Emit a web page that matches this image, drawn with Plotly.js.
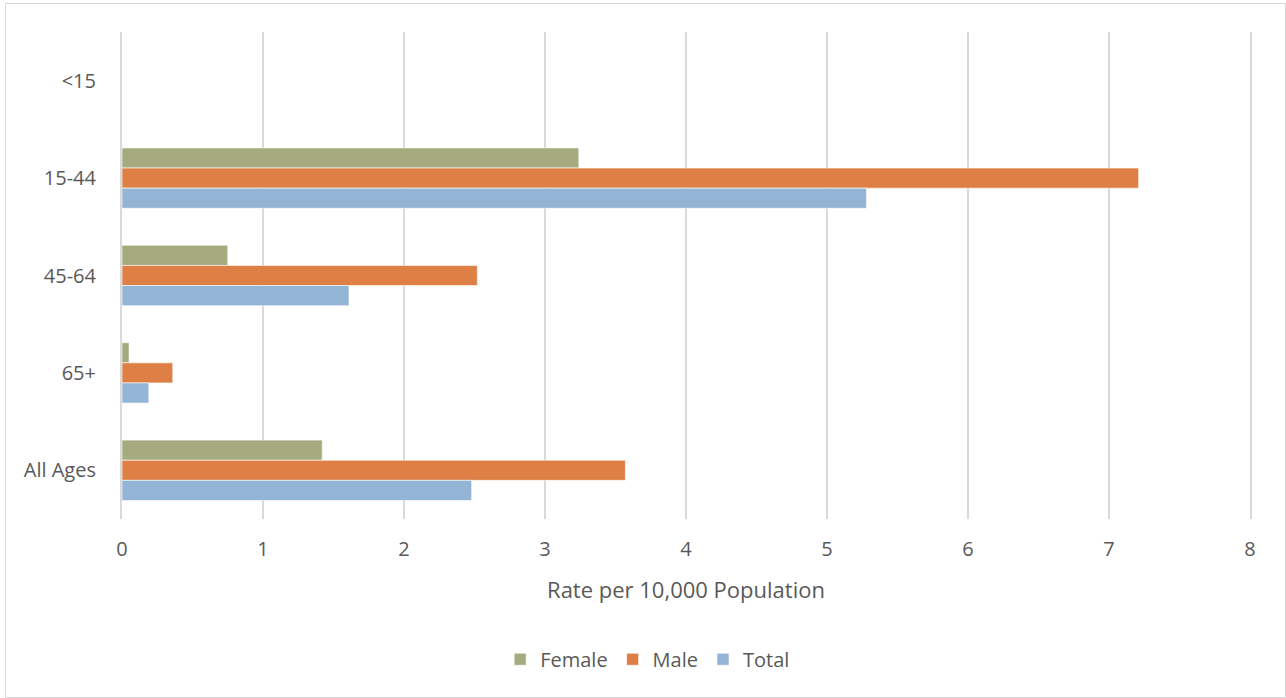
<!DOCTYPE html>
<html>
<head>
<meta charset="utf-8">
<script src="https://cdn.plot.ly/plotly-3.0.1.min.js"></script>
<style>
html,body{margin:0;padding:0;background:#fff;}
#wrap{position:relative;width:1286px;height:698px;}
#chart{position:absolute;left:0;top:0;width:1286px;height:698px;}
#frame{position:absolute;left:5px;top:3px;width:1279px;height:693px;border:1px solid #D9D9D9;pointer-events:none;}
</style>
</head>
<body>
<div id="wrap"><div id="chart"></div><div id="frame"></div></div>
<script>
const categories = ["<15", "15-44", "45-64", "65+", "All Ages"];
const female = [0, 3.24, 0.75, 0.05, 1.42];
const male = [0, 7.21, 2.52, 0.36, 3.57];
const total = [0, 5.28, 1.61, 0.19, 2.48];
const seriesNames = ["Female", "Male", "Total"];
const colors = ["#A5AB7F", "#DE8046", "#93B4D4"];
const xTicks = [0, 1, 2, 3, 4, 5, 6, 7, 8];

const values = [female, male, total];
const data = values.map((v, i) => ({
  type: 'bar',
  orientation: 'h',
  name: seriesNames[i],
  y: categories,
  x: v,
  marker: {color: colors[i], line: {color: 'rgba(255,255,255,0.6)', width: 1}},
  hoverinfo: 'x+name'
}));

const fontFam = '"Open Sans", "Liberation Sans", sans-serif';
const layout = {
  width: 1286, height: 698,
  margin: {l: 122, r: 36, t: 32, b: 179},
  paper_bgcolor: 'rgba(0,0,0,0)',
  plot_bgcolor: '#fff',
  barmode: 'group',
  bargap: 0.38,
  bargroupgap: 0,
  font: {family: fontFam, color: '#595959', size: 20},
  xaxis: {
    range: [0, 8],
    tickvals: xTicks,
    ticktext: xTicks.map(String),
    showgrid: true, gridcolor: '#D9D9D9', gridwidth: 2,
    zeroline: false, showline: false, ticks: '',
    ticklabelstandoff: 16,
    tickfont: {size: 20, color: '#595959'},
    title: {text: 'Rate per 10,000 Population', font: {size: 22, color: '#595959'}, standoff: 21}
  },
  yaxis: {
    type: 'category',
    autorange: 'reversed',
    showgrid: false, zeroline: false,
    showline: true, mirror: true, linecolor: '#D9D9D9', linewidth: 2,
    ticks: '',
    ticklabelstandoff: 20,
    tickfont: {size: 20, color: '#595959'}
  },
  showlegend: true,
  legend: {
    orientation: 'h',
    x: 0.466, xanchor: 'center',
    y: -0.288, yanchor: 'middle',
    font: {size: 20, color: '#595959'},
    traceorder: 'normal',
    itemwidth: 30
  }
};

Plotly.newPlot('chart', data, layout, {displayModeBar: false, staticPlot: true});
</script>
</body>
</html>
